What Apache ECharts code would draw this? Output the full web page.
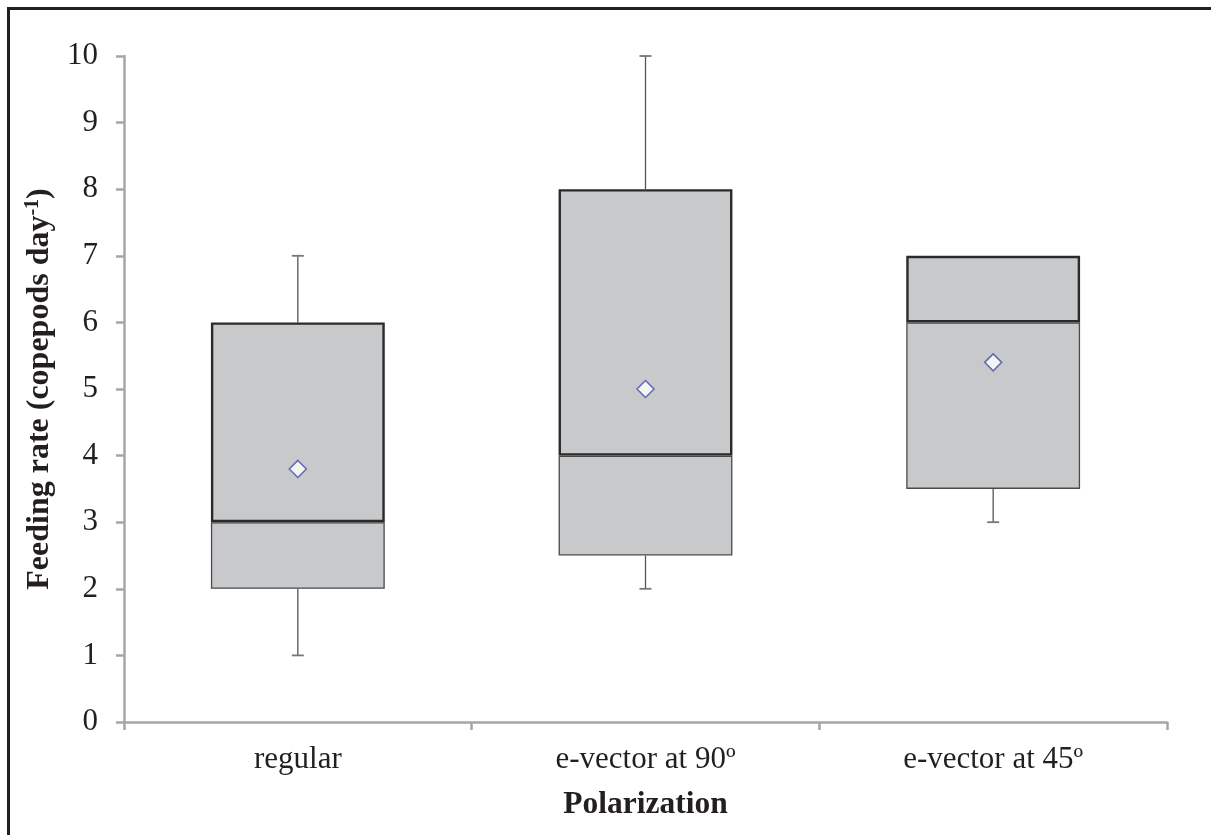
<!DOCTYPE html>
<html>
<head>
<meta charset="utf-8">
<script src="https://cdn.jsdelivr.net/npm/echarts@6/dist/echarts.min.js"></script>
<style>
html, body { margin: 0; padding: 0; background: #fff; }
#chart-1 { width: 1211px; height: 835px; }
</style>
</head>
<body>
<div id="chart-1"></div>
<script>
const categories = ['regular', 'e-vector at 90º', 'e-vector at 45º'];
const minVals = [1, 2, 3];
const q1Vals = [2, 2.5, 3.5];
const medianVals = [3, 4, 6];
const q3Vals = [6, 8, 7];
const maxVals = [7, 10, 7];
const meanVals = [3.8, 5, 5.4];
const yTicks = [0, 1, 2, 3, 4, 5, 6, 7, 8, 9, 10];

const FONT = '"Liberation Serif", "Times New Roman", serif';
const AXIS_GRAY = '#a6a6a6';

const TheChart = echarts.init(document.getElementById('chart-1'));

TheChart.setOption({
    animation: false,
    backgroundColor: '#fff',
    textStyle: { fontFamily: FONT },
    graphic: [{
        type: 'rect',
        shape: { x: 8.5, y: 8.5, width: 1212, height: 840 },
        style: { fill: 'none', stroke: '#231f20', lineWidth: 3 },
        silent: true
    }],
    grid: { left: 124, right: 44, top: 56, bottom: 113 },
    xAxis: {
        type: 'category',
        data: categories,
        boundaryGap: true,
        axisLine: { lineStyle: { color: AXIS_GRAY, width: 2.5 } },
        axisTick: { show: true, length: 8, lineStyle: { color: AXIS_GRAY, width: 2.5 } },
        axisLabel: { fontSize: 31, color: '#231f20', margin: 22, fontFamily: FONT },
        name: 'Polarization',
        nameLocation: 'middle',
        nameGap: 67,
        nameTextStyle: { fontSize: 31.5, fontWeight: 'bold', color: '#231f20', fontFamily: FONT }
    },
    yAxis: {
        type: 'value',
        min: yTicks[0],
        max: yTicks[yTicks.length - 1],
        interval: 1,
        splitLine: { show: false },
        axisLine: { show: true, lineStyle: { color: AXIS_GRAY, width: 2.5 } },
        axisTick: { show: true, length: 8, lineStyle: { color: AXIS_GRAY, width: 2.5 } },
        axisLabel: { fontSize: 31, color: '#231f20', margin: 26, fontFamily: FONT },
        name: 'Feeding rate (copepods day{sup|-1})',
        nameLocation: 'middle',
        nameGap: 66,
        nameRotate: 90,
        nameTextStyle: {
            fontSize: 32, fontWeight: 'bold', color: '#231f20', fontFamily: FONT,
            rich: {
                sup: { fontSize: 20, fontWeight: 'bold', color: '#231f20', fontFamily: FONT, verticalAlign: 'top', padding: [0, 0, 14, 0] }
            }
        }
    },
    series: [
        {
            name: 'base',
            type: 'bar',
            stack: 'box',
            barWidth: '50%',
            silent: true,
            itemStyle: { color: 'transparent' },
            data: q1Vals
        },
        {
            name: 'lower',
            type: 'bar',
            stack: 'box',
            silent: true,
            itemStyle: { color: '#c8c9cb', borderColor: '#4a4a4a', borderWidth: 1.3 },
            data: medianVals.map((m, i) => m - q1Vals[i])
        },
        {
            name: 'upper',
            type: 'bar',
            stack: 'box',
            silent: true,
            itemStyle: { color: '#c8c9cb', borderColor: '#2a2a2a', borderWidth: 2.4 },
            data: q3Vals.map((q, i) => q - medianVals[i])
        },
        {
            name: 'whiskers',
            type: 'custom',
            silent: true,
            z: 1,
            data: categories.map((c, i) => [i, minVals[i], q1Vals[i], q3Vals[i], maxVals[i]]),
            renderItem: function (params, api) {
                const x = api.value(0);
                const pMin = api.coord([x, api.value(1)]);
                const pQ1 = api.coord([x, api.value(2)]);
                const pQ3 = api.coord([x, api.value(3)]);
                const pMax = api.coord([x, api.value(4)]);
                const style = { stroke: '#555', lineWidth: 1.3 };
                const capStyle = { stroke: '#777', lineWidth: 1.8 };
                const cap = 6;
                const children = [];
                if (api.value(1) < api.value(2)) {
                    children.push({ type: 'line', shape: { x1: pQ1[0], y1: pQ1[1], x2: pMin[0], y2: pMin[1] }, style: style });
                    children.push({ type: 'line', shape: { x1: pMin[0] - cap, y1: pMin[1], x2: pMin[0] + cap, y2: pMin[1] }, style: capStyle });
                }
                if (api.value(4) > api.value(3)) {
                    children.push({ type: 'line', shape: { x1: pQ3[0], y1: pQ3[1], x2: pMax[0], y2: pMax[1] }, style: style });
                    children.push({ type: 'line', shape: { x1: pMax[0] - cap, y1: pMax[1], x2: pMax[0] + cap, y2: pMax[1] }, style: capStyle });
                }
                return { type: 'group', children: children };
            }
        },
        {
            name: 'mean',
            type: 'scatter',
            silent: true,
            z: 5,
            symbol: 'diamond',
            symbolSize: 17,
            itemStyle: { color: '#fff', borderColor: '#3d4fa5', borderWidth: 1.5 },
            data: meanVals.map((v, i) => [i, v])
        }
    ]
});
</script>
</body>
</html>
